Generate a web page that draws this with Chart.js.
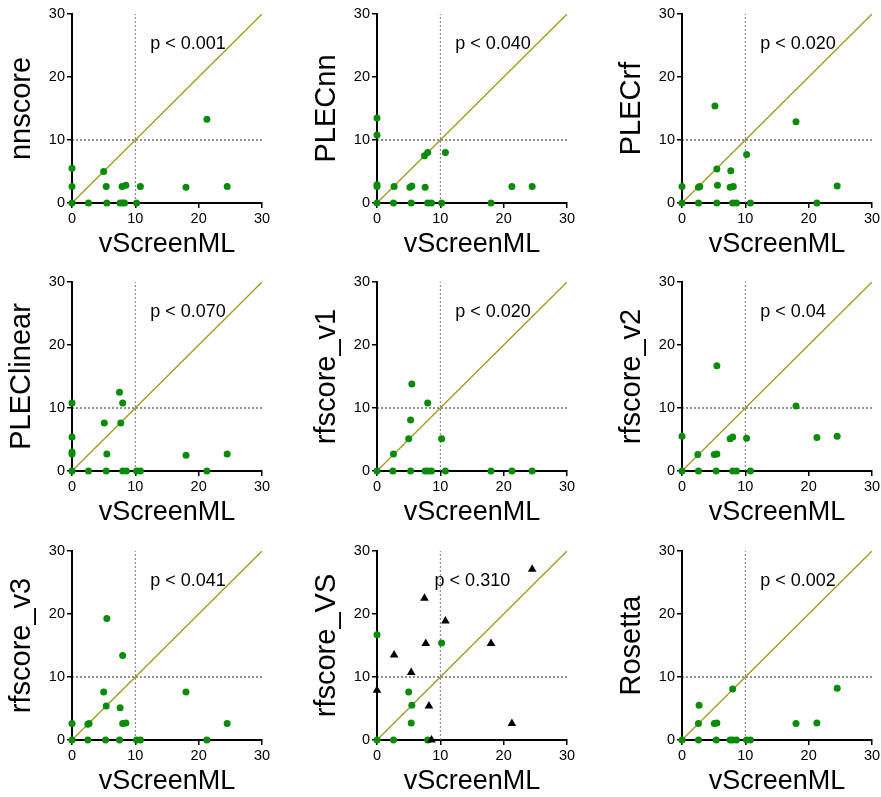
<!DOCTYPE html>
<html>
<head>
<meta charset="utf-8">
<script src="https://cdn.jsdelivr.net/npm/chart.js@4.4.1/dist/chart.umd.min.js"></script>
<style>
  html, body { margin: 0; padding: 0; background: #fff; overflow: hidden; }
  body { width: 881px; height: 797px; position: relative; }
  canvas { position: absolute; }
</style>
</head>
<body>
<script>
// scores per panel, [vScreenML, other]
const panelNames = ['nnscore', 'PLECnn', 'PLECrf', 'PLEClinear', 'rfscore_v1', 'rfscore_v2', 'rfscore_v3', 'rfscore_VS', 'Rosetta'];
const pLabels = ['p < 0.001', 'p < 0.040', 'p < 0.020', 'p < 0.070', 'p < 0.020', 'p < 0.04', 'p < 0.041', 'p < 0.310', 'p < 0.002'];
const axisTicks = [0, 10, 20, 30];

const nnscore = [[0,0],[0,2.6],[0,5.5],[2.6,0],[5.5,0],[7.6,0],[8.0,0],[8.3,0],[10.2,0],[5.0,5.0],[5.4,2.6],[7.9,2.6],[8.5,2.8],[10.8,2.6],[18.0,2.5],[21.3,13.3],[24.5,2.6]];
const plecnn = [[0,0],[0,2.6],[0,2.9],[0,10.8],[0,13.5],[2.6,0],[2.7,2.6],[5.2,2.5],[5.5,2.7],[5.4,0],[7.6,2.5],[7.5,7.5],[8.0,8.0],[8.0,0],[8.6,0],[10.2,0],[10.8,8.0],[18.0,0],[21.3,2.6],[24.5,2.6]];
const plecrf = [[0,0],[0,2.6],[2.6,0],[2.6,2.5],[2.8,2.6],[5.2,15.4],[5.5,5.4],[5.6,2.8],[5.5,0],[7.7,5.1],[7.6,2.5],[8.1,2.6],[8.0,0],[8.6,0],[10.2,7.7],[10.8,0],[18.0,12.9],[21.3,0],[24.5,2.7]];
const pleclinear = [[0,0],[0,2.7],[0,3.0],[0,5.4],[0,10.8],[2.6,0],[5.1,7.6],[5.5,2.7],[5.4,0],[7.5,12.5],[7.7,7.6],[8.0,10.8],[8.0,0],[8.6,0],[10.2,0],[10.8,0],[18.0,2.5],[21.3,0],[24.5,2.7]];
const rfv1 = [[0,0],[2.6,2.7],[2.5,0],[5.0,5.1],[5.3,8.1],[5.5,13.8],[5.3,0],[7.6,0],[8.0,10.8],[8.0,0],[8.6,0],[10.2,5.1],[10.8,0],[18.0,0],[21.3,0],[24.5,0]];
const rfv2 = [[0,0],[0,5.5],[2.6,0],[2.5,2.6],[5.1,2.6],[5.5,2.7],[5.5,16.7],[5.4,0],[7.6,5.1],[8.0,5.4],[8.0,0],[8.6,0],[10.2,5.2],[10.8,0],[18.0,10.3],[21.3,5.3],[24.5,5.5]];
const rfv3 = [[0,0],[0,2.6],[2.5,2.5],[2.7,2.6],[2.5,0],[5.0,7.6],[5.4,5.4],[5.5,19.3],[5.3,0],[7.6,5.1],[7.5,0],[8.0,13.4],[8.0,2.6],[8.5,2.7],[10.2,0],[10.8,0],[18.0,7.6],[21.3,0],[24.5,2.6]];
const rfvsCircles = [[0,0],[0,16.7],[2.6,0],[5.0,7.6],[5.5,5.5],[5.4,2.7],[8.0,0],[10.2,15.4]];
const rfvsTriangles = [[0,7.9],[2.7,13.5],[5.4,10.7],[7.5,22.5],[7.7,15.3],[8.2,5.4],[8.6,0],[10.8,18.9],[18.0,15.3],[21.3,2.6],[24.5,27.1]];
const rosetta = [[0,0],[2.7,5.5],[2.6,2.6],[2.6,0],[5.1,2.6],[5.5,2.7],[5.4,0],[7.6,0],[8.0,8.1],[8.0,0],[8.6,0],[10.2,0],[10.8,0],[18.0,2.6],[21.3,2.7],[24.5,8.2]];

const diagonal = [[0,0],[30,30]];
const vGuide = [[10,0],[10,30]];
const hGuide = [[0,10],[30,10]];

const circleSets = [nnscore, plecnn, plecrf, pleclinear, rfv1, rfv2, rfv3, rfvsCircles, rosetta];
const triangleSets = [null, null, null, null, null, null, null, rfvsTriangles, null];

const FONT = "'Liberation Sans', Arial, Helvetica, sans-serif";
const GREEN = '#0a8c0a';
const OLIVE = '#9d9a1f';

const toXY = arr => arr.map(p => ({x: p[0], y: p[1]}));

// p value label inside the plot
const pLabelPlugin = {
  id: 'pLabel',
  afterDatasetsDraw(chart, args, opts) {
    const ctx = chart.ctx, a = chart.chartArea;
    ctx.save();
    ctx.font = '18px ' + FONT;
    ctx.fillStyle = '#000';
    ctx.textBaseline = 'middle';
    ctx.fillText(opts.text, a.left + opts.dx, a.top + opts.dy);
    ctx.restore();
  }
};

function makePanel(i) {
  const row = Math.floor(i / 3), col = i % 3;
  const chartLefts = [71.7, 376.7, 682.3];
  const chartTops = [14, 282.3, 550.7];
  const cv = document.createElement('canvas');
  cv.width = 280; cv.height = 266;
  cv.style.left = (chartLefts[col] - 70) + 'px';
  cv.style.top = (chartTops[row] - 12) + 'px';
  document.body.appendChild(cv);

  const datasets = [{
    data: toXY(circleSets[i]),
    backgroundColor: GREEN, borderColor: GREEN, borderWidth: 0,
    pointRadius: 3.5, pointStyle: 'circle', clip: false
  }];
  if (triangleSets[i]) {
    datasets.unshift({
      data: toXY(triangleSets[i]),
      backgroundColor: '#000', borderColor: '#000', borderWidth: 0,
      pointRadius: 5, pointStyle: 'triangle', clip: false
    });
  }
  datasets.push(
    { data: toXY(diagonal), showLine: true, borderColor: OLIVE, borderWidth: 1.3, pointRadius: 0 },
    { data: toXY(vGuide), showLine: true, borderColor: '#777', borderWidth: 1, borderDash: [2, 2], pointRadius: 0 },
    { data: toXY(hGuide), showLine: true, borderColor: '#222', borderWidth: 1, borderDash: [2, 2], pointRadius: 0 }
  );

  const axis = (title, isY) => ({
    type: 'linear', min: 0, max: 30,
    afterBuildTicks: s => { s.ticks = axisTicks.map(v => ({value: v})); },
    afterFit: s => { if (isY) s.width = 70; else s.height = 65; },
    ticks: { color: '#000', font: { family: FONT, size: 14.5 }, padding: 2, maxRotation: 0 },
    grid: { drawOnChartArea: false, drawTicks: true, tickLength: 5, color: '#000', lineWidth: 1.5 },
    border: { display: true, color: '#000', width: 2 },
    title: {
      display: true, text: title, color: '#000',
      font: { family: FONT, size: isY ? 29 : 27 },
      padding: isY ? { top: 3, bottom: 0 } : { top: 0, bottom: 7 }
    }
  });

  new Chart(cv.getContext('2d'), {
    type: 'scatter',
    data: { datasets },
    options: {
      responsive: false, animation: false, devicePixelRatio: 1,
      layout: { padding: { top: 12, right: 20, left: 0, bottom: 0 } },
      plugins: {
        legend: { display: false }, tooltip: { enabled: false },
        pLabel: { text: pLabels[i], dx: i === 7 ? 57.6 : 78.3, dy: 30 }
      },
      scales: { x: axis('vScreenML', false), y: axis(panelNames[i], true) }
    },
    plugins: [pLabelPlugin]
  });
}

for (let i = 0; i < 9; i++) makePanel(i);
</script>
</body>
</html>
